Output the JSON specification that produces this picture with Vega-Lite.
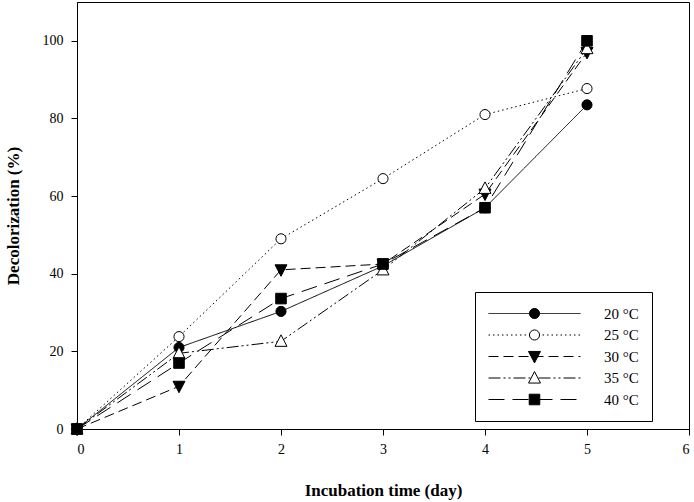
{
  "$schema": "https://vega.github.io/schema/vega-lite/v6.json",
  "width": 612,
  "height": 427,
  "autosize": {"type": "none"},
  "padding": {"left": 77, "top": 2, "right": 5, "bottom": 73},
  "background": "white",
  "config": {
    "view": {"stroke": "black", "strokeWidth": 1},
    "font": "Liberation Serif",
    "axis": {
      "grid": false,
      "domainColor": "black",
      "tickColor": "black",
      "tickSize": 6,
      "labelFont": "Liberation Serif",
      "labelFontSize": 14,
      "labelColor": "black",
      "titleFont": "Liberation Serif",
      "titleFontSize": 17,
      "titleFontWeight": "bold",
      "titleColor": "black"
    }
  },
  "data": {
    "values": [
      {"day": 0, "value": 0, "series": "20 °C"},
      {"day": 1, "value": 21, "series": "20 °C"},
      {"day": 2, "value": 30.3, "series": "20 °C"},
      {"day": 3, "value": 42, "series": "20 °C"},
      {"day": 4, "value": 57, "series": "20 °C"},
      {"day": 5, "value": 83.5, "series": "20 °C"},
      {"day": 0, "value": 0, "series": "25 °C"},
      {"day": 1, "value": 23.8, "series": "25 °C"},
      {"day": 2, "value": 49, "series": "25 °C"},
      {"day": 3, "value": 64.5, "series": "25 °C"},
      {"day": 4, "value": 81, "series": "25 °C"},
      {"day": 5, "value": 87.7, "series": "25 °C"},
      {"day": 0, "value": 0, "series": "30 °C"},
      {"day": 1, "value": 11, "series": "30 °C"},
      {"day": 2, "value": 41, "series": "30 °C"},
      {"day": 3, "value": 42.5, "series": "30 °C"},
      {"day": 4, "value": 60.5, "series": "30 °C"},
      {"day": 5, "value": 97, "series": "30 °C"},
      {"day": 0, "value": 0, "series": "35 °C"},
      {"day": 1, "value": 19.5, "series": "35 °C"},
      {"day": 2, "value": 22.6, "series": "35 °C"},
      {"day": 3, "value": 41, "series": "35 °C"},
      {"day": 4, "value": 62, "series": "35 °C"},
      {"day": 5, "value": 98, "series": "35 °C"},
      {"day": 0, "value": 0, "series": "40 °C"},
      {"day": 1, "value": 17, "series": "40 °C"},
      {"day": 2, "value": 33.6, "series": "40 °C"},
      {"day": 3, "value": 42.5, "series": "40 °C"},
      {"day": 4, "value": 57, "series": "40 °C"},
      {"day": 5, "value": 100, "series": "40 °C"}
    ]
  },
  "encoding": {
    "x": {
      "field": "day",
      "type": "quantitative",
      "title": "Incubation time (day)",
      "scale": {"domain": [0, 6], "nice": false},
      "axis": {"values": [0, 1, 2, 3, 4, 5, 6], "titlePadding": 26, "labelPadding": 7}
    },
    "y": {
      "field": "value",
      "type": "quantitative",
      "title": "Decolorization (%)",
      "scale": {"domain": [0, 110], "nice": false},
      "axis": {"values": [0, 20, 40, 60, 80, 100], "titlePadding": 20, "labelPadding": 8}
    }
  },
  "layer": [
    {
      "mark": {"type": "line", "color": "black", "strokeWidth": 1},
      "encoding": {
        "strokeDash": {
          "field": "series",
          "type": "nominal",
          "scale": {"range": [[1, 0], [1.5, 3], [10, 5], [12, 3, 2, 3, 2, 3], [16, 8]]},
          "legend": {
            "title": null,
            "orient": "none",
            "legendX": 398,
            "legendY": 290,
            "padding": 13,
            "strokeColor": "black",
            "fillColor": "white",
            "symbolType": "stroke",
            "symbolSize": 8464,
            "symbolStrokeColor": "black",
            "symbolStrokeWidth": 1,
            "clipHeight": 17,
            "labelFont": "Liberation Serif",
            "labelFontSize": 15,
            "labelColor": "black",
            "labelOffset": 23,
            "rowPadding": 4.5,
            "zindex": 1
          }
        }
      }
    },
    {
      "mark": {"type": "point", "filled": true, "strokeWidth": 1, "size": 8464, "opacity": 1},
      "encoding": {
        "shape": {
          "field": "series",
          "type": "nominal",
          "scale": {
            "domain": ["20 °C", "25 °C", "30 °C", "35 °C", "40 °C"],
            "range": [
              "M0.11,0A0.11,0.11,0,1,1,-0.11,0A0.11,0.11,0,1,1,0.11,0Z",
              "M0.11,0A0.11,0.11,0,1,1,-0.11,0A0.11,0.11,0,1,1,0.11,0Z",
              "M-0.13,-0.11L0.13,-0.11L0,0.14Z",
              "M-0.13,0.11L0.13,0.11L0,-0.14Z",
              "M-0.115,-0.115H0.115V0.115H-0.115Z"
            ]
          },
          "legend": {
            "title": null,
            "orient": "none",
            "legendX": 398,
            "legendY": 290,
            "padding": 13,
            "symbolSize": 8464,
            "symbolStrokeWidth": 1,
            "clipHeight": 17,
            "labelFont": "Liberation Serif",
            "labelFontSize": 15,
            "labelOpacity": 0,
            "labelOffset": 23,
            "rowPadding": 4.5,
            "zindex": 2
          }
        },
        "fill": {
          "field": "series",
          "type": "nominal",
          "scale": {
            "domain": ["20 °C", "25 °C", "30 °C", "35 °C", "40 °C"],
            "range": ["black", "white", "black", "white", "black"]
          },
          "legend": {
            "title": null,
            "orient": "none",
            "legendX": 398,
            "legendY": 290,
            "padding": 13,
            "symbolSize": 8464,
            "symbolStrokeWidth": 1,
            "clipHeight": 17,
            "labelFont": "Liberation Serif",
            "labelFontSize": 15,
            "labelOpacity": 0,
            "labelOffset": 23,
            "rowPadding": 4.5,
            "zindex": 2
          }
        },
        "stroke": {
          "field": "series",
          "type": "nominal",
          "scale": {
            "domain": ["20 °C", "25 °C", "30 °C", "35 °C", "40 °C"],
            "range": ["black", "black", "black", "black", "black"]
          },
          "legend": {
            "title": null,
            "orient": "none",
            "legendX": 398,
            "legendY": 290,
            "padding": 13,
            "symbolSize": 8464,
            "symbolStrokeWidth": 1,
            "clipHeight": 17,
            "labelFont": "Liberation Serif",
            "labelFontSize": 15,
            "labelOpacity": 0,
            "labelOffset": 23,
            "rowPadding": 4.5,
            "zindex": 2
          }
        }
      }
    }
  ]
}
